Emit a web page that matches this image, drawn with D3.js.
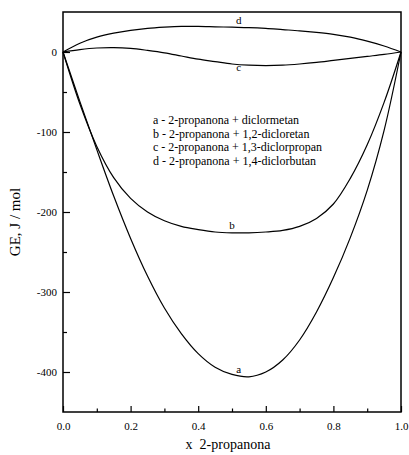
<!DOCTYPE html>
<html>
<head>
<meta charset="utf-8">
<script src="https://cdn.jsdelivr.net/npm/d3@7"></script>
<style>
body { margin: 0; background: #fff; }
text { font-family: "Liberation Serif", "DejaVu Serif", serif; fill: #000; }
</style>
</head>
<body>
<svg id="chart"></svg>
<script>
// datos (fraccion molar de 2-propanona)
const xs = [0, 0.05, 0.1, 0.15, 0.2, 0.25, 0.3, 0.35, 0.4, 0.45, 0.5, 0.55, 0.6, 0.65, 0.7, 0.75, 0.8, 0.85, 0.9, 0.95, 1]
const yA = [0, -62, -122, -180, -233, -280, -320, -352, -377, -394, -403, -406, -400, -385, -360, -325, -282, -232, -173, -98, 0]
const yB = [0, -65, -118, -157, -183, -200, -211, -218, -222, -225, -226, -226, -225, -223, -218, -208, -190, -158, -116, -63, 0]
const yC = [0, 3, 5, 5.5, 4.5, 2, -1, -5, -9, -12, -15, -16.5, -17, -16.5, -15, -13, -10.5, -8, -5.5, -3, 0]
const yD = [0, 11, 18.5, 23.5, 27, 29.5, 31, 32, 32, 31.5, 31, 30.5, 29.5, 28, 26.5, 24.5, 22, 18.5, 13.5, 7.5, 0]

const curveNames = ['a', 'b', 'c', 'd']
const labelPos = [[0.52, -401], [0.50, -221], [0.52, -24], [0.52, 35]]

const legend = [
  'a - 2-propanona + diclormetan',
  'b - 2-propanona + 1,2-dicloretan',
  'c - 2-propanona + 1,3-diclorpropan',
  'd - 2-propanona + 1,4-diclorbutan'
]

const xTicks = [0, 0.2, 0.4, 0.6, 0.8, 1.0]
const xMinor = [0.1, 0.3, 0.5, 0.7, 0.9]
const yTicks = [0, -100, -200, -300, -400]
const yMinor = [-50, -150, -250, -350]

const width = 409
const height = 455

const x = d3.scaleLinear().domain([0, 1]).range([63, 401])
const y = d3.scaleLinear().domain([-450, 50]).range([412, 12])

const svg = d3.select('#chart').attr('width', width).attr('height', height)

// ejes
const xAxis = d3.axisBottom(x).tickValues(xTicks).tickSize(-6).tickPadding(10).tickFormat(d3.format('.1f'))
const xAxisMinor = d3.axisBottom(x).tickValues(xMinor).tickSize(-3.5).tickFormat('')
const yAxis = d3.axisLeft(y).tickValues(yTicks).tickSize(-7).tickPadding(6).tickFormat(d => String(d))
const yAxisMinor = d3.axisLeft(y).tickValues(yMinor).tickSize(-4).tickFormat('')

function style(g) {
  g.select('.domain').remove()
  g.selectAll('line').attr('stroke', '#000').attr('stroke-width', 1.2)
  g.selectAll('text').style('font-size', '11px').attr('fill', '#000')
}

svg.append('g').attr('transform', 'translate(0,412)').call(xAxis).call(style)
svg.append('g').attr('transform', 'translate(0,412)').call(xAxisMinor).call(style)
svg.append('g').attr('transform', 'translate(63,0)').call(yAxis).call(style)
svg.append('g').attr('transform', 'translate(63,0)').call(yAxisMinor).call(style)

// marco
svg.append('rect')
  .attr('x', x(0)).attr('y', y(50))
  .attr('width', x(1) - x(0)).attr('height', y(-450) - y(50))
  .attr('fill', 'none').attr('stroke', '#000').attr('stroke-width', 1.5)

// curvas
const line = d3.line().x(d => x(d[0])).y(d => y(d[1])).curve(d3.curveCatmullRom.alpha(0.5))
const series = [yA, yB, yC, yD]
series.forEach(s => {
  svg.append('path')
    .datum(xs.map((v, i) => [v, s[i]]))
    .attr('d', line)
    .attr('fill', 'none')
    .attr('stroke', '#000')
    .attr('stroke-width', 1.2)
})

svg.selectAll('.clabel')
  .data(curveNames)
  .enter()
  .append('text')
  .attr('class', 'clabel')
  .attr('x', (d, i) => x(labelPos[i][0]))
  .attr('y', (d, i) => y(labelPos[i][1]))
  .attr('text-anchor', 'middle')
  .style('font-size', '11px')
  .text(d => d)

svg.selectAll('.leg')
  .data(legend)
  .enter()
  .append('text')
  .attr('class', 'leg')
  .attr('x', 153)
  .attr('y', (d, i) => 124 + i * 13.5)
  .style('font-size', '12px')
  .text(d => d)

// titulos
svg.append('text')
  .attr('x', 228).attr('y', 449)
  .attr('text-anchor', 'middle')
  .style('font-size', '14px')
  .style('white-space', 'pre')
  .text('x  2-propanona')

svg.append('text')
  .attr('transform', 'translate(20,222) rotate(-90)')
  .attr('text-anchor', 'middle')
  .style('font-size', '15px')
  .text('GE, J / mol')
</script>
</body>
</html>
